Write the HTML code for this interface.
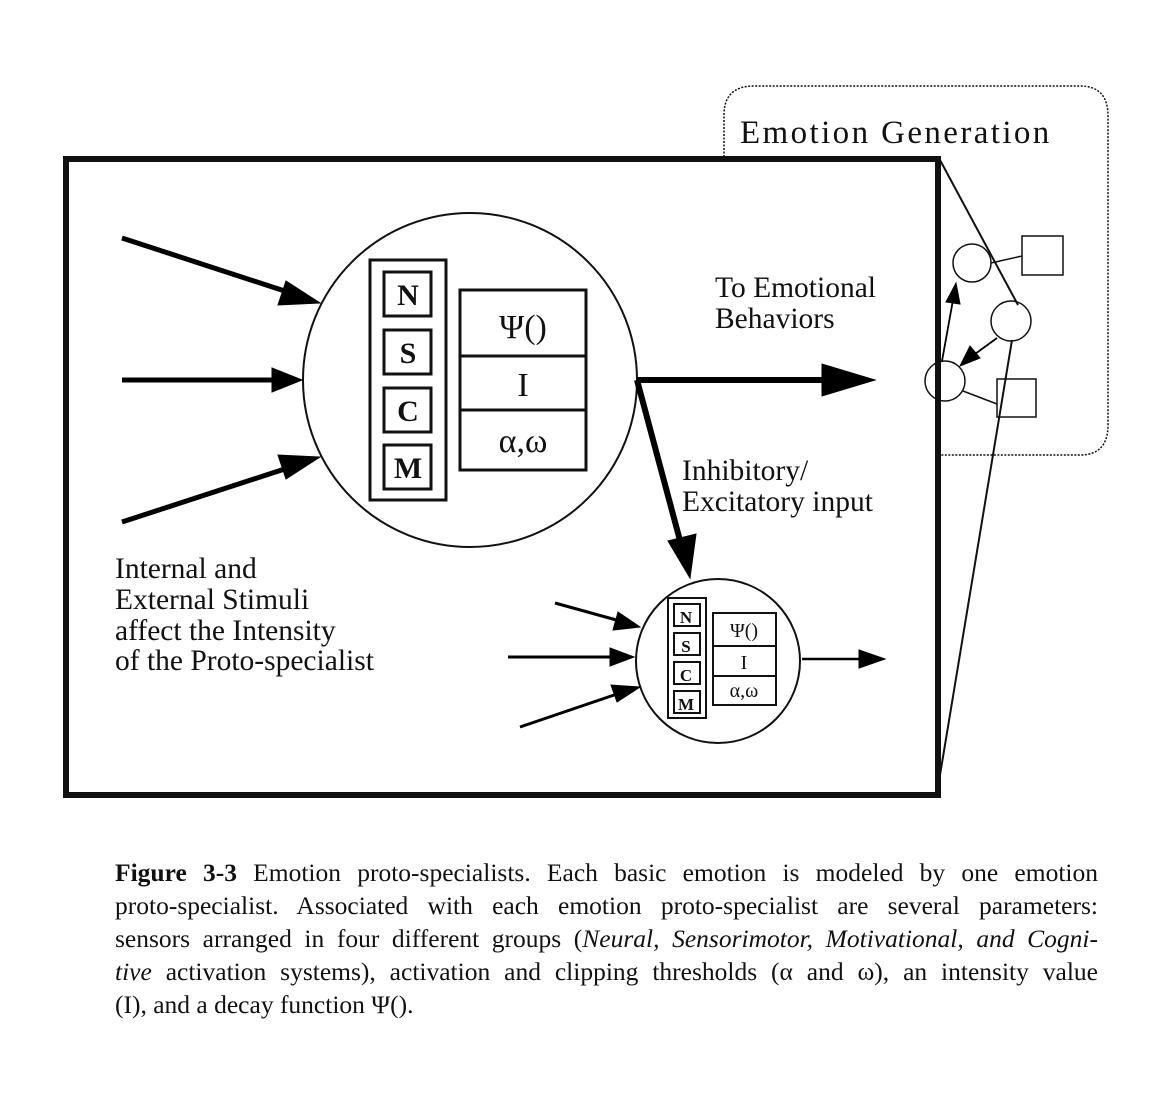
<!DOCTYPE html>
<html><head><meta charset="utf-8"><style>
body{margin:0;background:#fff;width:1170px;height:1094px;overflow:hidden;position:relative;font-family:"Liberation Serif",serif;}
svg{position:absolute;left:0;top:0}
.cap{position:absolute;left:115px;top:856px;width:983px;font-size:25.5px;line-height:33px;color:#111}
.cap div{text-align:justify;text-align-last:justify;white-space:nowrap;}
.cap div.l{text-align-last:left}
</style></head><body>
<svg width="1170" height="1094" viewBox="0 0 1170 1094">
<g fill="none" stroke="#111">
<path d="M724,157 L724,115 Q724,86 754,86 L1080,86 Q1108,86 1108,116 L1108,425 Q1108,455 1080,455 L940,455" stroke-width="1.5" stroke-dasharray="2,1.5"/>
<rect x="66" y="159" width="872" height="636" stroke-width="6"/>
<circle cx="470" cy="380" r="167" stroke-width="2"/>
<rect x="370" y="260" width="76" height="240" stroke-width="3"/>
<rect x="384" y="272" width="47" height="44" stroke-width="3"/>
<rect x="384" y="330" width="47" height="44" stroke-width="3"/>
<rect x="384" y="388" width="47" height="44" stroke-width="3"/>
<rect x="384" y="445" width="47" height="44" stroke-width="3"/>
<rect x="460" y="290" width="126" height="180" stroke-width="3"/>
<line x1="460" y1="356" x2="586" y2="356" stroke-width="3"/>
<line x1="460" y1="410" x2="586" y2="410" stroke-width="3"/>
<circle cx="718" cy="661" r="82" stroke-width="2"/>
<rect x="668" y="598" width="38" height="120" stroke-width="2"/>
<rect x="674" y="604" width="26" height="22" stroke-width="2"/>
<rect x="674" y="633" width="26" height="22" stroke-width="2"/>
<rect x="674" y="662" width="26" height="22" stroke-width="2"/>
<rect x="674" y="691" width="26" height="22" stroke-width="2"/>
<rect x="713" y="613" width="63" height="92" stroke-width="2"/>
<line x1="713" y1="646" x2="776" y2="646" stroke-width="2"/>
<line x1="713" y1="676" x2="776" y2="676" stroke-width="2"/>
<line x1="940" y1="160" x2="1018" y2="305" stroke-width="2"/>
<line x1="1012" y1="340" x2="940" y2="775" stroke-width="2"/>
<circle cx="972" cy="263" r="19" stroke-width="1.5"/>
<circle cx="1011" cy="321" r="20" stroke-width="1.5"/>
<circle cx="945" cy="381" r="20" stroke-width="1.5"/>
<rect x="1022" y="236" width="41" height="39" stroke-width="1.5"/>
<rect x="997" y="379" width="39" height="38" stroke-width="1.5"/>
<line x1="991" y1="263" x2="1022" y2="256" stroke-width="1.5"/>
<line x1="963" y1="391" x2="997" y2="404" stroke-width="1.5"/>
</g>
<g stroke="#000" stroke-linecap="butt">
<line x1="122" y1="238" x2="300" y2="296" stroke-width="5"/><polygon points="320,303 278,305 286,281"/>
<line x1="122" y1="380" x2="280" y2="380" stroke-width="5"/><polygon points="302,380 272,368 272,392"/>
<line x1="122" y1="522" x2="300" y2="464" stroke-width="5"/><polygon points="320,457 286,479 278,455"/>
<line x1="637" y1="380" x2="830" y2="380" stroke-width="6"/><polygon points="875,380 822,364 822,396"/>
<line x1="637" y1="380" x2="682" y2="548" stroke-width="6"/><polygon points="690,578 668,541 696,534"/>
<line x1="555" y1="603" x2="620" y2="621" stroke-width="3"/><polygon points="640,627 613,630 618,612"/>
<line x1="508" y1="657" x2="615" y2="657" stroke-width="3"/><polygon points="634,657 610,648 610,666"/>
<line x1="520" y1="727" x2="620" y2="693" stroke-width="3"/><polygon points="640,687 617,702 611,685"/>
<line x1="802" y1="659" x2="862" y2="659" stroke-width="2.5"/><polygon points="885,659 859,650 859,668"/>
<line x1="942" y1="361" x2="953" y2="300" stroke-width="1.8"/><polygon points="956,283 946,302 960,304"/>
<line x1="997" y1="338" x2="975" y2="354" stroke-width="1.8"/><polygon points="960,366 970,346 980,358"/>
</g>
<g font-family="Liberation Serif, serif" fill="#111">
<text x="740" y="143" font-size="33" letter-spacing="2.4">Emotion Generation</text>
<g font-weight="bold" font-size="30" text-anchor="middle">
<text x="408" y="305">N</text><text x="408" y="363">S</text><text x="408" y="421">C</text><text x="408" y="478">M</text>
<text x="686" y="623" font-size="17">N</text><text x="686" y="652" font-size="17">S</text><text x="686" y="681" font-size="17">C</text><text x="686" y="710" font-size="17">M</text>
</g>
<g font-size="34" text-anchor="middle">
<text x="523" y="338">Ψ()</text><text x="523" y="396">I</text><text x="523" y="452">α,ω</text>
</g>
<g font-size="20" text-anchor="middle">
<text x="744" y="637">Ψ()</text><text x="744" y="669">I</text><text x="744" y="697">α,ω</text>
</g>
<g font-size="29.5">
<text x="715" y="297">To Emotional</text><text x="715" y="328">Behaviors</text>
<text x="682" y="480">Inhibitory/</text><text x="682" y="511">Excitatory input</text>
<text x="115" y="578">Internal and</text><text x="115" y="609">External Stimuli</text>
<text x="115" y="640">affect the Intensity</text><text x="115" y="670">of the Proto-specialist</text>
</g>
</g>
</svg>
<div class="cap">
<div><b>Figure 3-3</b> Emotion proto-specialists. Each basic emotion is modeled by one emotion</div>
<div>proto-specialist. Associated with each emotion proto-specialist are several parameters:</div>
<div>sensors arranged in four different groups (<i>Neural, Sensorimotor, Motivational, and Cogni-</i></div>
<div><i>tive</i> activation systems), activation and clipping thresholds (α and ω), an intensity value</div>
<div class="l">(I), and a decay function Ψ().</div>
</div>
</body></html>
